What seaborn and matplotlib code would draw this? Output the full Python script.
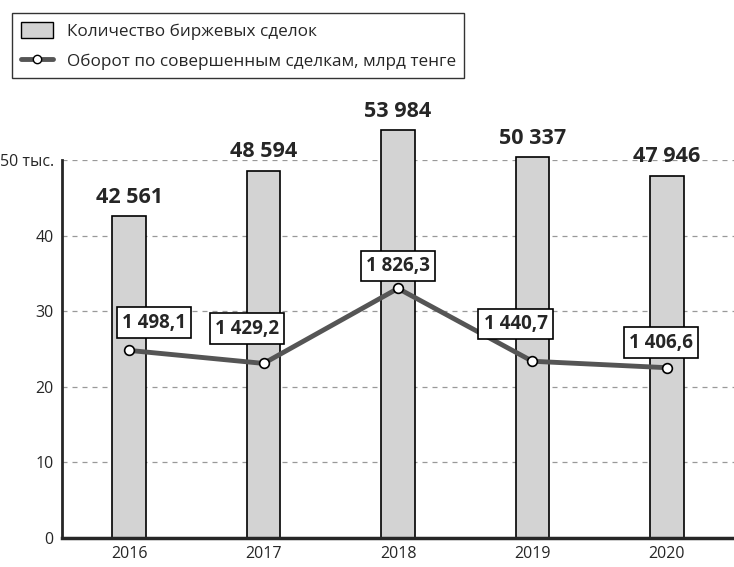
import numpy as np
import pandas as pd
import matplotlib
matplotlib.use("Agg")
import matplotlib.pyplot as plt
from matplotlib.patches import Patch
from matplotlib.lines import Line2D
import seaborn as sns

years = ["2016", "2017", "2018", "2019", "2020"]
deals = [42561, 48594, 53984, 50337, 47946]
turnover = [1498.1, 1429.2, 1826.3, 1440.7, 1406.6]
deal_labels = ["42 561", "48 594", "53 984", "50 337", "47 946"]
turnover_labels = ["1 498,1", "1 429,2", "1 826,3", "1 440,7", "1 406,6"]
y_ticks = [0, 10, 20, 30, 40, 50]
y_tick_labels = ["0", "10", "20", "30", "40", "50 тыс."]

sns.set_style("white")
plt.rcParams["font.family"] = ["Open Sans", "DejaVu Sans"]

df = pd.DataFrame({"year": years, "deals": np.array(deals) / 1000, "turnover": turnover})
df["pos"] = np.arange(len(years))

fig = plt.figure(figsize=(7.34, 5.67), dpi=100)
ax = fig.add_axes([0.0845, 0.0511, 0.9155, 0.6667])

sns.barplot(data=df, x="year", y="deals", color="#d3d3d3", edgecolor="black",
            linewidth=1.2, width=0.25, saturation=1, ax=ax, zorder=2)
for p in ax.patches:
    p.set_clip_on(False)

ax.set_xlim(-0.5, 4.5)
ax.set_ylim(0, 50)
ax.set_yticks(y_ticks)
ax.set_yticklabels(y_tick_labels)
ax.set_xlabel("")
ax.set_ylabel("")
ax.grid(axis="y", linestyle=(0, (4, 4)), color="#999999", linewidth=0.9, zorder=0)
ax.set_axisbelow(True)

for s in ["top", "right"]:
    ax.spines[s].set_visible(False)
ax.spines["left"].set_linewidth(2)
ax.spines["bottom"].set_linewidth(2.5)
ax.tick_params(axis="y", length=0, labelsize=11.5, pad=6)
ax.tick_params(axis="x", which="major", length=0, labelsize=11.5, pad=6)
ax.set_xticks([0.5, 1.5, 2.5, 3.5], minor=True)
ax.tick_params(axis="x", which="minor", direction="in", length=8, width=2, color="black")

for i, lab in enumerate(deal_labels):
    ax.annotate(lab, (i, deals[i] / 1000), xytext=(0, 6), textcoords="offset points",
                ha="center", va="bottom", fontsize=15.5, fontweight="bold", annotation_clip=False)

ax2 = ax.twinx()
sns.lineplot(data=df, x="pos", y="turnover", color="#555555", linewidth=3.5,
             marker="o", markersize=7, markerfacecolor="white", markeredgecolor="black",
             markeredgewidth=1.2, ax=ax2, zorder=3)
ax2.set_ylim(505, 2506)
ax2.set_xlim(-0.5, 4.5)
ax2.axis("off")

offsets = [(18, 20), (-12, 25), (0, 16), (-12, 27), (-4, 18)]
for i, lab in enumerate(turnover_labels):
    ax2.annotate(lab, (i, turnover[i]), xytext=offsets[i], textcoords="offset points",
                 ha="center", va="center", fontsize=13.5, fontweight="bold",
                 bbox=dict(boxstyle="square,pad=0.28", fc="white", ec="black", lw=1.2))

handles = [
    Patch(facecolor="#d3d3d3", edgecolor="black", linewidth=1),
    Line2D([0], [0], color="#555555", linewidth=3.5, marker="o", markersize=6,
           markerfacecolor="white", markeredgecolor="black"),
]
labels = ["Количество биржевых сделок", "Оборот по совершенным сделкам, млрд тенге"]
leg = fig.legend(handles, labels, loc="upper left", bbox_to_anchor=(0.0163, 0.977),
                 borderaxespad=0, frameon=True, fancybox=False, edgecolor="black",
                 fontsize=12.3, handlelength=1.9, handleheight=1.1, handletextpad=0.8,
                 borderpad=0.5, labelspacing=0.7)
leg.get_frame().set_linewidth(1)

fig.savefig("out.png", dpi=100)
